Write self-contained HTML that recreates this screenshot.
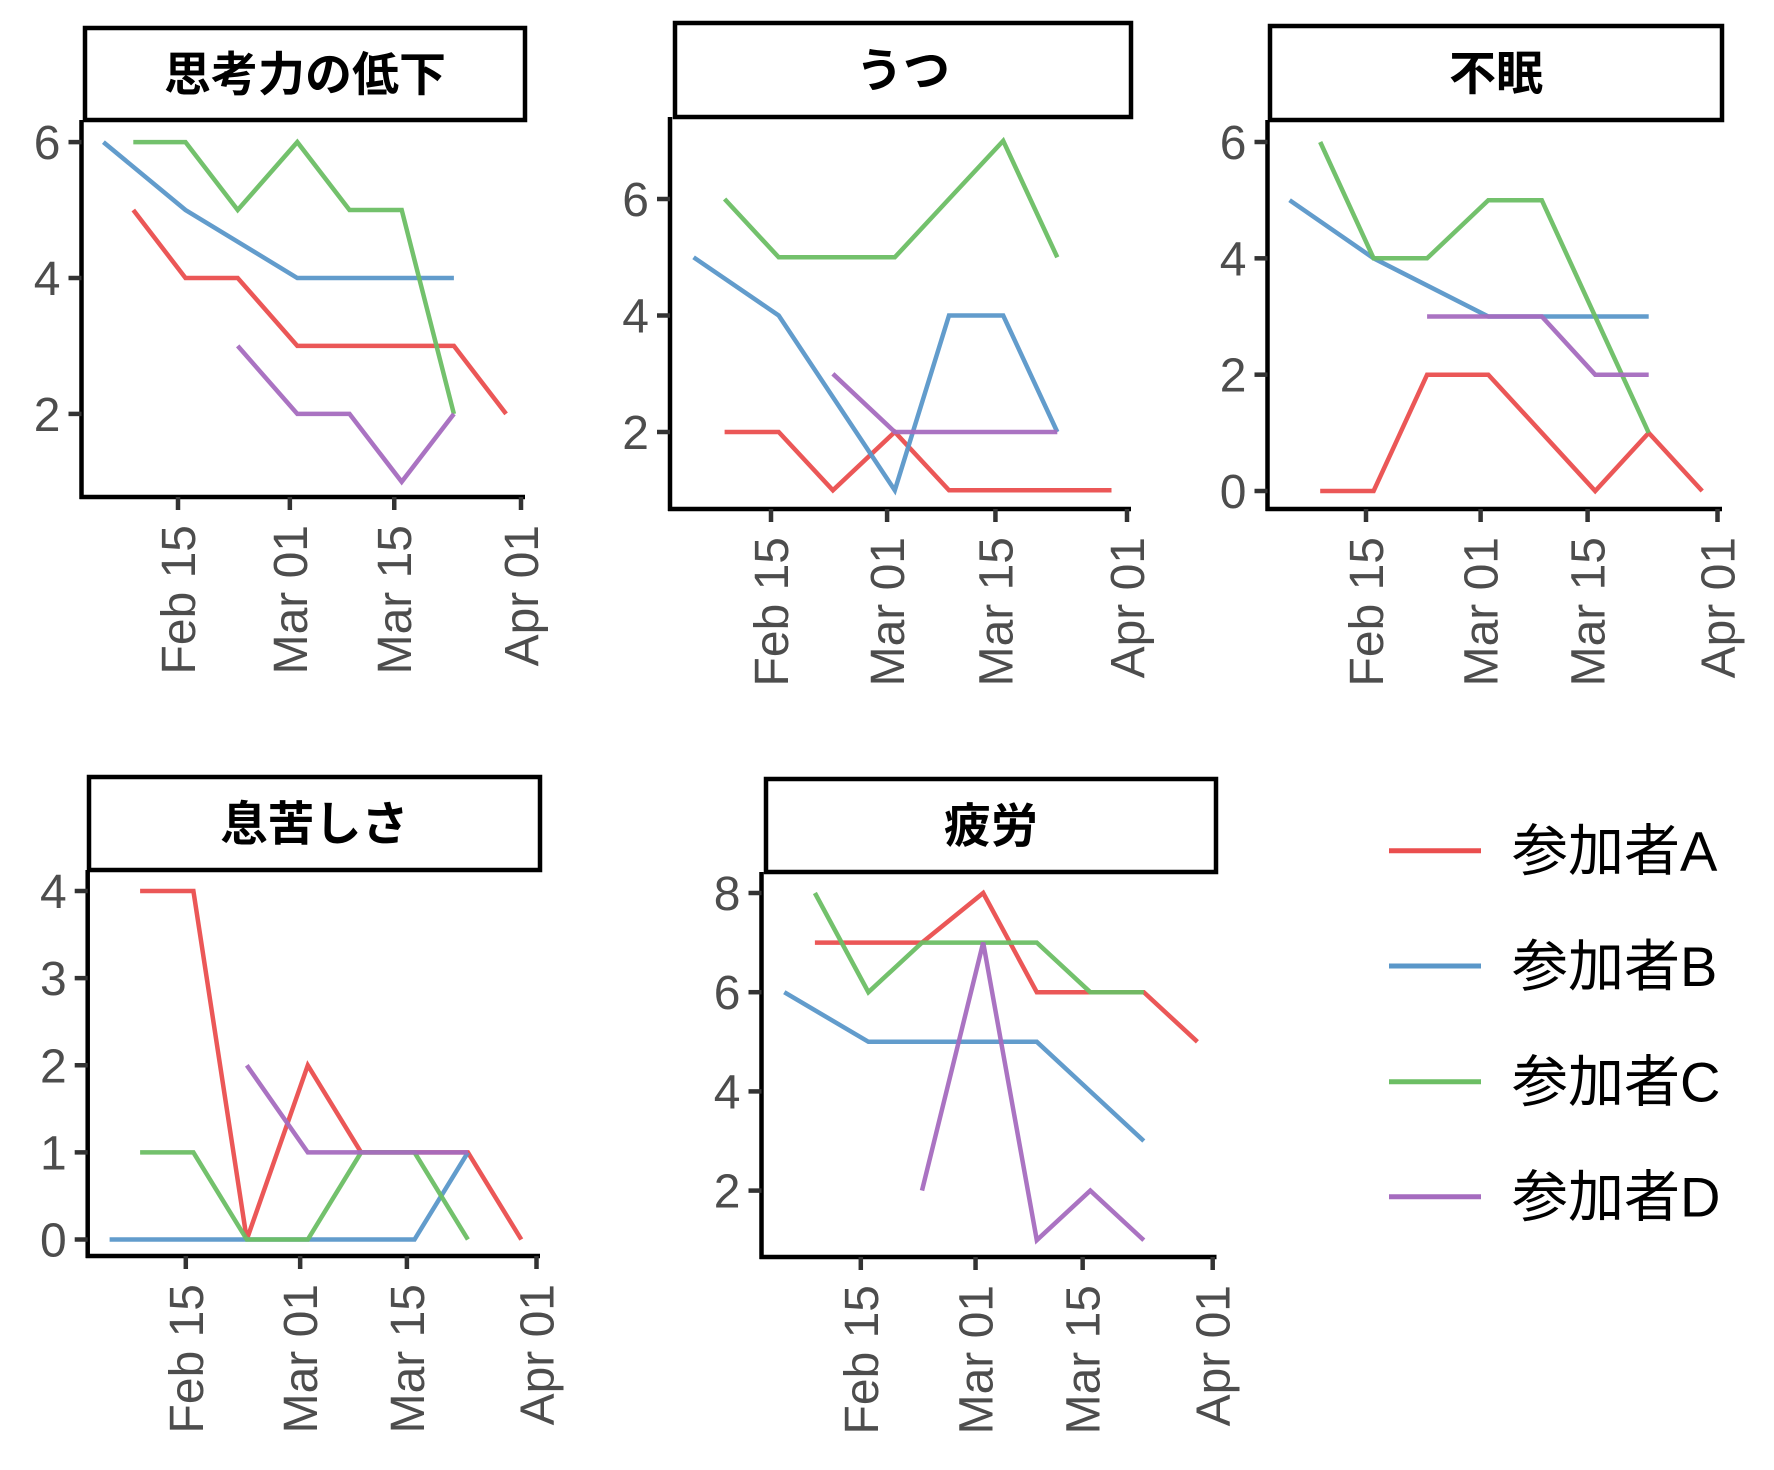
<!DOCTYPE html>
<html><head><meta charset="utf-8">
<style>
html,body{margin:0;padding:0;background:#fff;}
svg{display:block;}
.tick{font-family:"Liberation Sans","Noto Sans CJK JP",sans-serif;font-size:48px;fill:#4d4d4d;}
.strip{font-family:"Liberation Sans","Noto Sans CJK JP",sans-serif;font-size:47px;font-weight:bold;fill:#000;}
.leg{font-family:"Liberation Sans","Noto Sans CJK JP",sans-serif;font-size:56px;fill:#000;}
</style></head>
<body>
<svg id="chart" width="1774" height="1470" viewBox="0 0 1774 1470" xmlns="http://www.w3.org/2000/svg"></svg>
<script>
// participants and dates
const participants = ["参加者A","参加者B","参加者C","参加者D"];
const colors = ["#ea4e4e","#5a97c9","#6cbe64","#a56cbf"];
const datesA = ["02-09","02-16","02-23","03-02","03-09","03-16","03-23","03-30"];
const datesB = ["02-05","02-16","03-02","03-09","03-16","03-23"];
const datesC = ["02-09","02-16","02-23","03-02","03-09","03-16","03-23"];
const datesD = ["02-23","03-02","03-09","03-16","03-23"];
const xTickLabels = ["Feb 15","Mar 01","Mar 15","Apr 01"];
const xTickDates = ["02-15","03-01","03-15","04-01"];

// 思考力の低下
const thinkA = [5,4,4,3,3,3,3,2];
const thinkB = [6,5,4,4,4,4];
const thinkC = [6,6,5,6,5,5,2];
const thinkD = [3,2,2,1,2];
const thinkTicks = [2,4,6];
// うつ
const deprA = [2,2,1,2,1,1,1,1];
const deprB = [5,4,1,4,4,2];
const deprC = [6,5,5,5,6,7,5];
const deprD = [3,2,2,2,2];
const deprTicks = [2,4,6];
// 不眠
const insomA = [0,0,2,2,1,0,1,0];
const insomB = [5,4,3,3,3,3];
const insomC = [6,4,4,5,5,3,1];
const insomD = [3,3,3,2,2];
const insomTicks = [0,2,4,6];
// 息苦しさ
const breathA = [4,4,0,2,1,1,1,0];
const breathB = [0,0,0,0,0,1];
const breathC = [1,1,0,0,1,1,0];
const breathD = [2,1,1,1,1];
const breathTicks = [0,1,2,3,4];
// 疲労
const fatA = [7,7,7,8,6,6,6,5];
const fatB = [6,5,5,5,4,3];
const fatC = [8,6,7,7,7,6,6];
const fatD = [2,7,1,2,1];
const fatTicks = [2,4,6,8];

const NS = "http://www.w3.org/2000/svg";
const svg = document.getElementById("chart");
function mk(tag, attrs, parent){
  const e = document.createElementNS(NS, tag);
  for (const k in attrs) e.setAttribute(k, attrs[k]);
  (parent||svg).appendChild(e);
  return e;
}
function day(s){ const p = s.split("-"); return Date.UTC(2024, +p[0]-1, +p[1]) / 86400000; }

const allDates = [datesA, datesB, datesC, datesD];
const panels = [
  {title:"思考力の低下", key:"thinking", vals:[thinkA,thinkB,thinkC,thinkD], ticks:thinkTicks,
   L:81.5,R:525,T:120,B:497, sx0:85,sx1:525,sy0:28, yv:[6,2], yp:[142.1,413.9], xp:[178,521]},
  {title:"うつ", key:"depression", vals:[deprA,deprB,deprC,deprD], ticks:deprTicks,
   L:670,R:1131,T:117,B:509, sx0:675,sx1:1131,sy0:23, yv:[6,2], yp:[199,432], xp:[771,1127]},
  {title:"不眠", key:"insomnia", vals:[insomA,insomB,insomC,insomD], ticks:insomTicks,
   L:1267.5,R:1722,T:120,B:509, sx0:1270,sx1:1722,sy0:26, yv:[6,0], yp:[142,491], xp:[1366,1717.5]},
  {title:"息苦しさ", key:"breathlessness", vals:[breathA,breathB,breathC,breathD], ticks:breathTicks,
   L:87.7,R:540,T:870,B:1256, sx0:89,sx1:540,sy0:777, yv:[4,0], yp:[891,1239.5], xp:[185.8,536.5]},
  {title:"疲労", key:"fatigue", vals:[fatA,fatB,fatC,fatD], ticks:fatTicks,
   L:761.5,R:1216.5,T:872,B:1257, sx0:766,sx1:1216,sy0:779, yv:[8,2], yp:[893,1190.6], xp:[860.8,1212.7]}
];

panels.forEach(p => {
  const g = mk("g", {});
  
  
  const d0 = day(xTickDates[0]), d1 = day(xTickDates[3]);
  const xs = d => p.xp[0] + (day(d) - d0) * (p.xp[1] - p.xp[0]) / (d1 - d0);
  const ys = v => p.yp[0] + (v - p.yv[0]) * (p.yp[1] - p.yp[0]) / (p.yv[1] - p.yv[0]);

  const sr = mk("rect", {x:p.sx0, y:p.sy0, width:p.sx1-p.sx0, height:p.T-p.sy0, fill:"#fff", stroke:"#000", "stroke-width":4.5}, g);
  
  
  const st = mk("text", {x:(p.sx0+p.sx1)/2, y:(p.sy0+p.T)/2+17, "text-anchor":"middle", class:"strip"}, g);
  st.textContent = p.title;
  
  

  p.vals.forEach((vals, i) => {
    const pts = vals.map((v, j) => xs(allDates[i][j]).toFixed(1) + "," + ys(v).toFixed(1)).join(" ");
    const pl = mk("polyline", {points:pts, fill:"none", stroke:colors[i], "stroke-width":4.5, "stroke-linejoin":"miter", "stroke-opacity":0.95}, g);
    
    
  });

  const ya = mk("line", {x1:p.L, y1:p.T, x2:p.L, y2:p.B+2, stroke:"#000", "stroke-width":4.5}, g);
  
  
  const xa = mk("line", {x1:p.L-2, y1:p.B, x2:p.R, y2:p.B, stroke:"#000", "stroke-width":4.5}, g);
  
  

  p.ticks.forEach(t => {
    const y = ys(t);
    mk("line", {x1:p.L-13, y1:y, x2:p.L, y2:y, stroke:"#333", "stroke-width":4.5}, g);
    const tl = mk("text", {x:p.L-21, y:y+17, "text-anchor":"end", class:"tick"}, g);
    tl.textContent = t;
    
    
  });
  xTickDates.forEach((d, k) => {
    const x = xs(d);
    mk("line", {x1:x, y1:p.B, x2:x, y2:p.B+13, stroke:"#333", "stroke-width":4.5}, g);
    const tl = mk("text", {x:0, y:0, "text-anchor":"end", class:"tick",
      transform:"translate(" + (x+17) + "," + (p.B+28) + ") rotate(-90)"}, g);
    tl.textContent = xTickLabels[k];
    
    
  });
});

const legY = [850.7, 966, 1081.7, 1196.7];
const lg = mk("g", {});


participants.forEach((name, i) => {
  const ln = mk("line", {x1:1389, y1:legY[i], x2:1481, y2:legY[i], stroke:colors[i], "stroke-width":5}, lg);
  
  
  const tx = mk("text", {x:1512, y:legY[i]+20, class:"leg"}, lg);
  tx.textContent = name;
  
  
});
</script>
</body></html>
